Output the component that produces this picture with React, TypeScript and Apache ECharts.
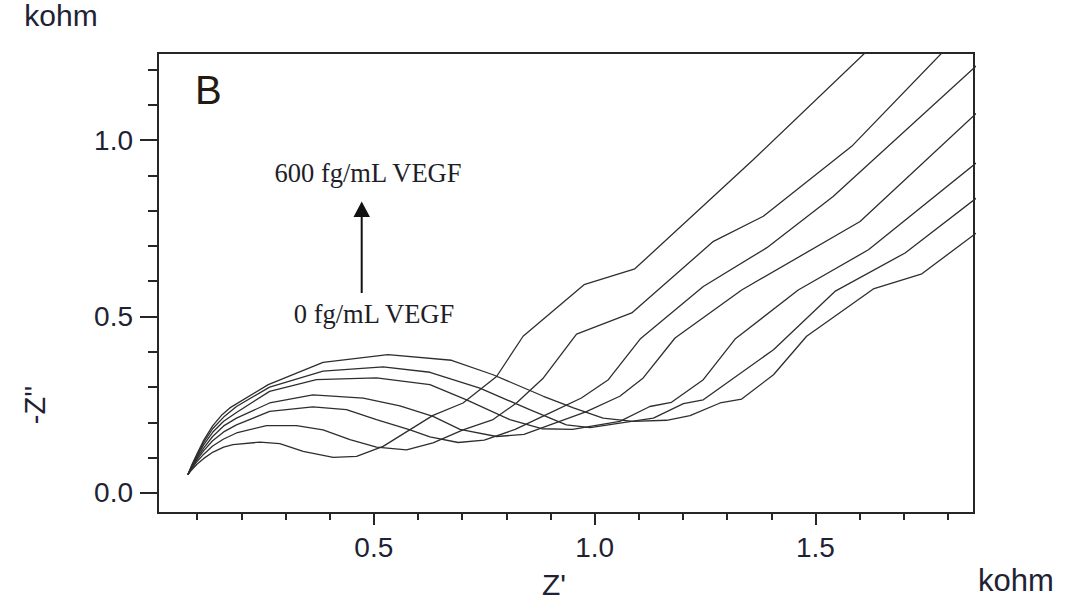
import React, { useEffect, useRef } from "react";
import * as echarts from "echarts";

// Axis ranges (kohm)
const X_MIN = 0.0113;
const X_MAX = 1.859;
const Y_MIN = -0.0567;
const Y_MAX = 1.2465;

// Tick positions and labels
const xMajorTicks = [0.5, 1.0, 1.5];
const xMinorTicks = [0.1, 0.2, 0.3, 0.4, 0.6, 0.7, 0.8, 0.9, 1.1, 1.2, 1.3, 1.4, 1.6, 1.7, 1.8];
const yMajorTicks = [0.0, 0.5, 1.0];
const yMinorTicks = [0.1, 0.2, 0.3, 0.4, 0.6, 0.7, 0.8, 0.9, 1.1, 1.2];

// Nyquist curves: [Z', -Z''] in kohm, from 0 fg/mL (c1) to 600 fg/mL VEGF (c7)
const c1 = [[0.079,0.052],[0.088,0.066],[0.100,0.082],[0.115,0.098],[0.136,0.116],[0.160,0.130],[0.181,0.137],[0.242,0.144],[0.287,0.140],[0.340,0.118],[0.408,0.101],[0.461,0.104],[0.521,0.132],[0.634,0.220],[0.702,0.255],[0.778,0.330],[0.838,0.444],[0.976,0.590],[1.091,0.635],[1.359,0.944],[1.640,1.280]];
const c2 = [[0.079,0.052],[0.088,0.070],[0.100,0.090],[0.115,0.110],[0.135,0.133],[0.160,0.153],[0.189,0.170],[0.257,0.191],[0.325,0.191],[0.385,0.179],[0.446,0.151],[0.506,0.130],[0.574,0.122],[0.634,0.142],[0.702,0.179],[0.770,0.208],[0.823,0.255],[0.884,0.326],[0.959,0.450],[1.084,0.510],[1.269,0.713],[1.382,0.784],[1.582,0.982],[1.812,1.280]];
const c3 = [[0.079,0.052],[0.088,0.072],[0.100,0.095],[0.115,0.120],[0.135,0.148],[0.160,0.173],[0.189,0.193],[0.264,0.231],[0.362,0.244],[0.438,0.236],[0.506,0.208],[0.582,0.179],[0.627,0.159],[0.691,0.143],[0.750,0.150],[0.820,0.180],[0.899,0.227],[0.970,0.269],[1.031,0.321],[1.103,0.436],[1.246,0.585],[1.390,0.695],[1.540,0.840],[1.870,1.217]];
const c4 = [[0.079,0.052],[0.088,0.074],[0.100,0.100],[0.115,0.128],[0.135,0.160],[0.160,0.190],[0.189,0.212],[0.264,0.255],[0.362,0.278],[0.476,0.269],[0.559,0.247],[0.634,0.217],[0.695,0.180],[0.778,0.160],[0.840,0.166],[0.899,0.193],[0.980,0.230],[1.057,0.274],[1.110,0.326],[1.182,0.439],[1.333,0.575],[1.601,0.769],[1.870,1.082]];
const c5 = [[0.079,0.052],[0.088,0.076],[0.100,0.104],[0.115,0.137],[0.135,0.172],[0.160,0.203],[0.189,0.228],[0.264,0.288],[0.370,0.321],[0.506,0.326],[0.627,0.307],[0.710,0.264],[0.808,0.208],[0.880,0.182],[0.950,0.180],[1.057,0.203],[1.125,0.245],[1.174,0.257],[1.246,0.321],[1.318,0.436],[1.461,0.575],[1.620,0.689],[1.870,0.941]];
const c6 = [[0.079,0.052],[0.088,0.078],[0.100,0.108],[0.115,0.144],[0.135,0.182],[0.160,0.215],[0.189,0.245],[0.264,0.300],[0.385,0.345],[0.521,0.357],[0.627,0.342],[0.740,0.297],[0.853,0.236],[0.936,0.193],[0.990,0.185],[1.057,0.198],[1.133,0.212],[1.201,0.253],[1.246,0.264],[1.405,0.406],[1.544,0.571],[1.703,0.680],[1.870,0.841]];
const c7 = [[0.079,0.052],[0.088,0.080],[0.100,0.112],[0.115,0.150],[0.135,0.190],[0.155,0.220],[0.174,0.241],[0.261,0.307],[0.385,0.370],[0.532,0.392],[0.676,0.376],[0.770,0.335],[0.884,0.274],[0.952,0.241],[1.019,0.212],[1.087,0.203],[1.163,0.206],[1.216,0.219],[1.284,0.255],[1.333,0.266],[1.405,0.335],[1.480,0.444],[1.631,0.578],[1.741,0.621],[1.870,0.742]];

const curves = [c1, c2, c3, c4, c5, c6, c7];
const curveNames = ["0 fg/mL VEGF", "VEGF 2", "VEGF 3", "VEGF 4", "VEGF 5", "VEGF 6", "600 fg/mL VEGF"];

const SANS = "'Liberation Sans', Arial, sans-serif";
const SERIF = "'Liberation Serif', 'Times New Roman', serif";
const AXIS_COLOR = "#262626";
const TEXT_COLOR = "#1e2233";

export default function App() {
  const ref = useRef<HTMLDivElement>(null);

  useEffect(() => {
    if (!ref.current) return;
    const chart = echarts.init(ref.current, null, { renderer: "svg" });

    const fmt = (v: number) => v.toFixed(1);

    const option: any = {
      animation: false,
      backgroundColor: "#ffffff",
      grid: {
        left: 158,
        right: 102,
        top: 53,
        bottom: 90,
        show: true,
        borderColor: AXIS_COLOR,
        borderWidth: 2,
        backgroundColor: "transparent",
        containLabel: false,
        outerBoundsMode: "none",
      },
      xAxis: [
        {
          type: "value",
          min: X_MIN,
          max: X_MAX,
          position: "bottom",
          axisLine: { show: true, onZero: false, lineStyle: { color: AXIS_COLOR, width: 2 } },
          axisTick: { show: true, customValues: xMajorTicks, length: 12, lineStyle: { color: AXIS_COLOR, width: 2 } },
          axisLabel: {
            show: true,
            customValues: xMajorTicks,
            formatter: fmt,
            margin: 20,
            fontSize: 28,
            fontFamily: SANS,
            color: TEXT_COLOR,
          },
          splitLine: { show: false },
        },
        {
          type: "value",
          min: X_MIN,
          max: X_MAX,
          position: "bottom",
          axisLine: { show: false, onZero: false },
          axisTick: { show: true, customValues: xMinorTicks, length: 7, lineStyle: { color: AXIS_COLOR, width: 2 } },
          axisLabel: { show: false },
          splitLine: { show: false },
        },
      ],
      yAxis: [
        {
          type: "value",
          min: Y_MIN,
          max: Y_MAX,
          position: "left",
          axisLine: { show: true, onZero: false, lineStyle: { color: AXIS_COLOR, width: 2 } },
          axisTick: { show: true, customValues: yMajorTicks, length: 18, lineStyle: { color: AXIS_COLOR, width: 2 } },
          axisLabel: {
            show: true,
            customValues: yMajorTicks,
            formatter: fmt,
            margin: 25,
            fontSize: 28,
            fontFamily: SANS,
            color: TEXT_COLOR,
          },
          splitLine: { show: false },
        },
        {
          type: "value",
          min: Y_MIN,
          max: Y_MAX,
          position: "left",
          axisLine: { show: false, onZero: false },
          axisTick: { show: true, customValues: yMinorTicks, length: 10, lineStyle: { color: AXIS_COLOR, width: 2 } },
          axisLabel: { show: false },
          splitLine: { show: false },
        },
      ],
      series: curves.map((d, i) => ({
        type: "line",
        name: curveNames[i],
        xAxisIndex: 0,
        yAxisIndex: 0,
        data: d,
        showSymbol: false,
        symbol: "none",
        smooth: false,
        clip: true,
        lineStyle: { color: "#2e2e2e", width: 1.3 },
        emphasis: { disabled: true },
      })),
      graphic: [
        {
          type: "text",
          x: 61,
          y: 15,
          style: { text: "kohm", fontSize: 30, fontFamily: SANS, fill: TEXT_COLOR, align: "center", verticalAlign: "middle" },
        },
        {
          type: "text",
          x: 35,
          y: 405,
          rotation: Math.PI / 2,
          style: { text: "-Z''", fontSize: 29, fontFamily: SANS, fill: TEXT_COLOR, align: "center", verticalAlign: "middle" },
        },
        {
          type: "text",
          x: 554,
          y: 584,
          style: { text: "Z'", fontSize: 30, fontFamily: SANS, fill: TEXT_COLOR, align: "center", verticalAlign: "middle" },
        },
        {
          type: "text",
          x: 1016,
          y: 580,
          style: { text: "kohm", fontSize: 31, fontFamily: SANS, fill: TEXT_COLOR, align: "center", verticalAlign: "middle" },
        },
        {
          type: "text",
          x: 195,
          y: 90,
          style: { text: "B", fontSize: 40, fontFamily: SANS, fill: "#221a14", align: "left", verticalAlign: "middle" },
        },
        {
          type: "text",
          x: 368,
          y: 173,
          style: { text: "600 fg/mL VEGF", fontSize: 26.5, fontFamily: SERIF, fill: "#1e1e28", align: "center", verticalAlign: "middle" },
        },
        {
          type: "text",
          x: 374,
          y: 314,
          style: { text: "0 fg/mL VEGF", fontSize: 26.5, fontFamily: SERIF, fill: "#1e1e28", align: "center", verticalAlign: "middle" },
        },
        {
          type: "line",
          shape: { x1: 361.7, y1: 293, x2: 361.7, y2: 214 },
          style: { stroke: "#111", lineWidth: 2 },
        },
        {
          type: "polygon",
          shape: { points: [[353.5, 217], [370, 217], [361.7, 201.5]] },
          style: { fill: "#111" },
        },
      ],
    };

    chart.setOption(option);
    return () => chart.dispose();
  }, []);

  return (
    <div
      ref={ref}
      style={{ position: "fixed", left: 0, top: 0, width: 1076, height: 603, background: "#fff" }}
    />
  );
}
